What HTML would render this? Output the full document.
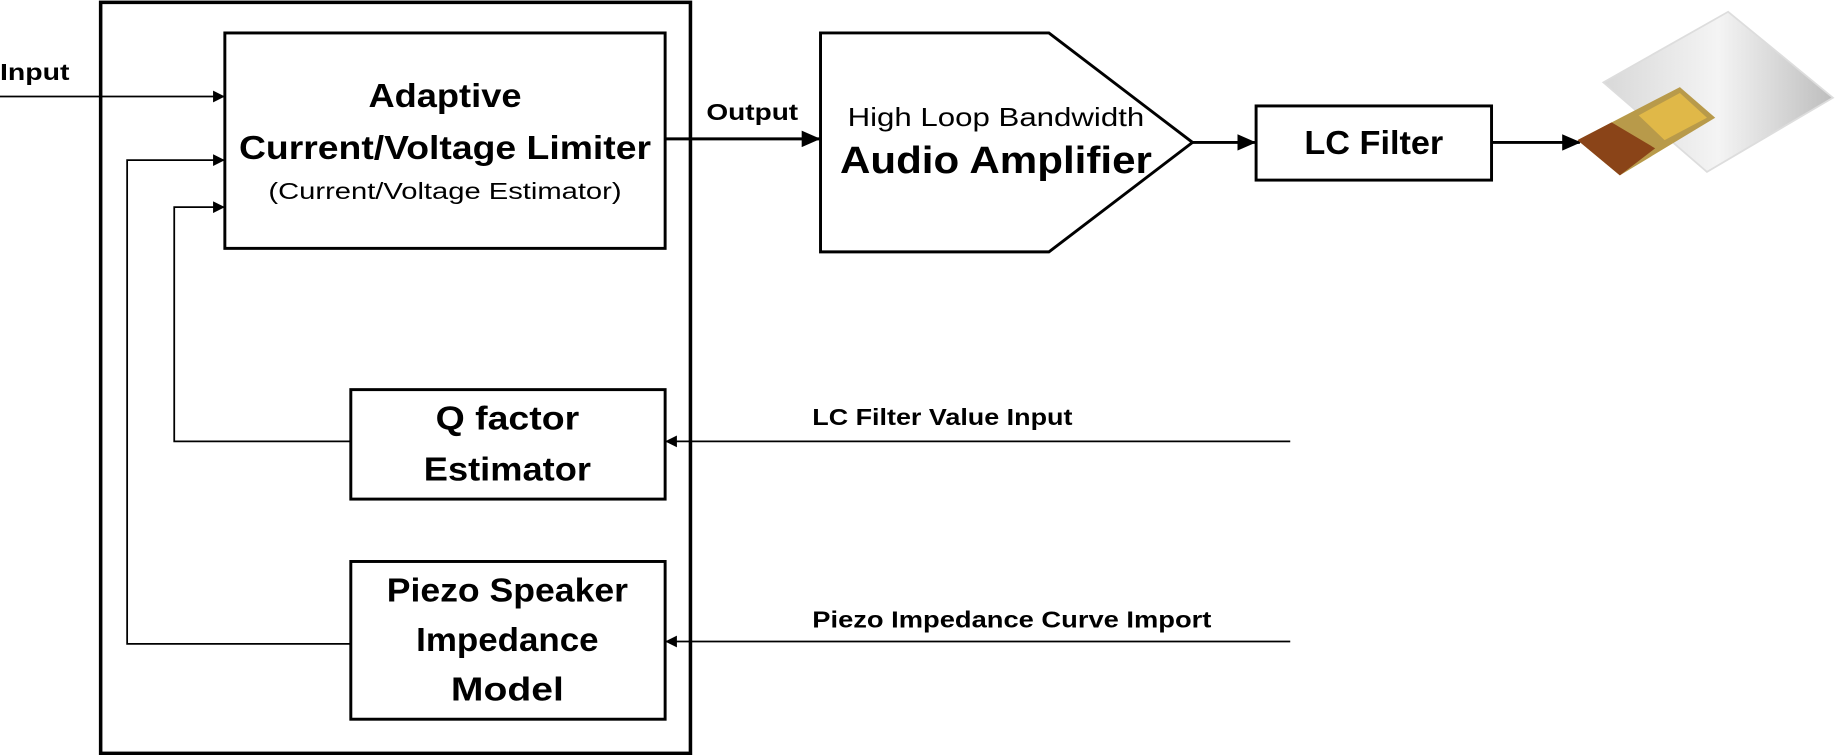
<!DOCTYPE html>
<html><head><meta charset="utf-8"><style>
html,body{margin:0;padding:0;background:#fff;}
svg{display:block;}
text{font-family:"Liberation Sans",sans-serif;fill:#000;}
</style></head><body>
<svg width="1840" height="755" viewBox="0 0 1563 641.4" preserveAspectRatio="none" xmlns="http://www.w3.org/2000/svg">
<defs>
<marker id="a" markerWidth="10" markerHeight="10" refX="9" refY="5" orient="auto" markerUnits="userSpaceOnUse"><path d="M0,0 L10,5 L0,10 z" fill="#000"/></marker>
<marker id="b" markerWidth="16" markerHeight="14" refX="15" refY="7" orient="auto" markerUnits="userSpaceOnUse"><path d="M0,0 L16,7 L0,14 z" fill="#000"/></marker>
<linearGradient id="g" x1="0" y1="0" x2="1" y2="0"><stop offset="0" stop-color="#d8d8d8"/><stop offset="0.5" stop-color="#f4f4f4"/><stop offset="1" stop-color="#bdbdbd"/></linearGradient>
</defs>
<rect x="85.5" y="2" width="501" height="638" fill="none" stroke="#000" stroke-width="3"/>
<rect x="191" y="28" width="374" height="183" fill="none" stroke="#000" stroke-width="2.5"/>
<text x="378" y="91" font-size="28" font-weight="bold" text-anchor="middle" textLength="130" lengthAdjust="spacingAndGlyphs">Adaptive</text>
<text x="378" y="135" font-size="28" font-weight="bold" text-anchor="middle" textLength="350" lengthAdjust="spacingAndGlyphs">Current/Voltage Limiter</text>
<text x="378" y="169" font-size="20" text-anchor="middle" textLength="300" lengthAdjust="spacingAndGlyphs">(Current/Voltage Estimator)</text>
<text x="0" y="68" font-size="20" font-weight="bold" textLength="59" lengthAdjust="spacingAndGlyphs">Input</text>
<line x1="0" y1="82" x2="190" y2="82" stroke="#000" stroke-width="1.5" marker-end="url(#a)"/>
<polyline points="298,547 108,547 108,136 190,136" fill="none" stroke="#000" stroke-width="1.5" marker-end="url(#a)"/>
<polyline points="298,375 148,375 148,176 190,176" fill="none" stroke="#000" stroke-width="1.5" marker-end="url(#a)"/>
<rect x="298" y="331" width="267" height="93" fill="none" stroke="#000" stroke-width="2.5"/>
<text x="431" y="365" font-size="28" font-weight="bold" text-anchor="middle" textLength="122" lengthAdjust="spacingAndGlyphs">Q factor</text>
<text x="431" y="408" font-size="28" font-weight="bold" text-anchor="middle" textLength="142" lengthAdjust="spacingAndGlyphs">Estimator</text>
<rect x="298" y="477" width="267" height="134" fill="none" stroke="#000" stroke-width="2.5"/>
<text x="431" y="511" font-size="28" font-weight="bold" text-anchor="middle" textLength="205" lengthAdjust="spacingAndGlyphs">Piezo Speaker</text>
<text x="431" y="553" font-size="28" font-weight="bold" text-anchor="middle" textLength="155" lengthAdjust="spacingAndGlyphs">Impedance</text>
<text x="431" y="595" font-size="28" font-weight="bold" text-anchor="middle" textLength="96" lengthAdjust="spacingAndGlyphs">Model</text>
<line x1="1096" y1="375" x2="566" y2="375" stroke="#000" stroke-width="1.5" marker-end="url(#a)"/>
<text x="690" y="361" font-size="20" font-weight="bold" textLength="221" lengthAdjust="spacingAndGlyphs">LC Filter Value Input</text>
<line x1="1096" y1="545" x2="566" y2="545" stroke="#000" stroke-width="1.5" marker-end="url(#a)"/>
<text x="690" y="533" font-size="20" font-weight="bold" textLength="339" lengthAdjust="spacingAndGlyphs">Piezo Impedance Curve Import</text>
<line x1="565" y1="118" x2="696" y2="118" stroke="#000" stroke-width="2.5" marker-end="url(#b)"/>
<text x="600" y="102" font-size="20" font-weight="bold" textLength="78" lengthAdjust="spacingAndGlyphs">Output</text>
<polygon points="697,28 891,28 1013,121 891,214 697,214" fill="none" stroke="#000" stroke-width="2.5"/>
<text x="846" y="107" font-size="22" text-anchor="middle" textLength="252" lengthAdjust="spacingAndGlyphs">High Loop Bandwidth</text>
<text x="846" y="147" font-size="32" font-weight="bold" text-anchor="middle" textLength="265" lengthAdjust="spacingAndGlyphs">Audio Amplifier</text>
<line x1="1013" y1="121" x2="1066" y2="121" stroke="#000" stroke-width="2.5" marker-end="url(#b)"/>
<rect x="1067" y="90" width="200" height="63" fill="none" stroke="#000" stroke-width="2.5"/>
<text x="1167" y="131" font-size="28" font-weight="bold" text-anchor="middle" textLength="118" lengthAdjust="spacingAndGlyphs">LC Filter</text>
<line x1="1267" y1="121" x2="1342" y2="121" stroke="#000" stroke-width="2.5" marker-end="url(#b)"/>
<polygon points="1362,70 1468,10 1557,83 1450,146" fill="url(#g)" stroke="#ddd" stroke-width="1.5"/>
<polygon points="1340,119 1427,74 1457,100 1376,149" fill="#b89a4a"/>
<polygon points="1392,98 1427,79 1450,100 1414,119" fill="#e0b848"/>
<polygon points="1340,119 1369,104 1406,126 1376,149" fill="#8a4418"/>
</svg>
</body></html>
